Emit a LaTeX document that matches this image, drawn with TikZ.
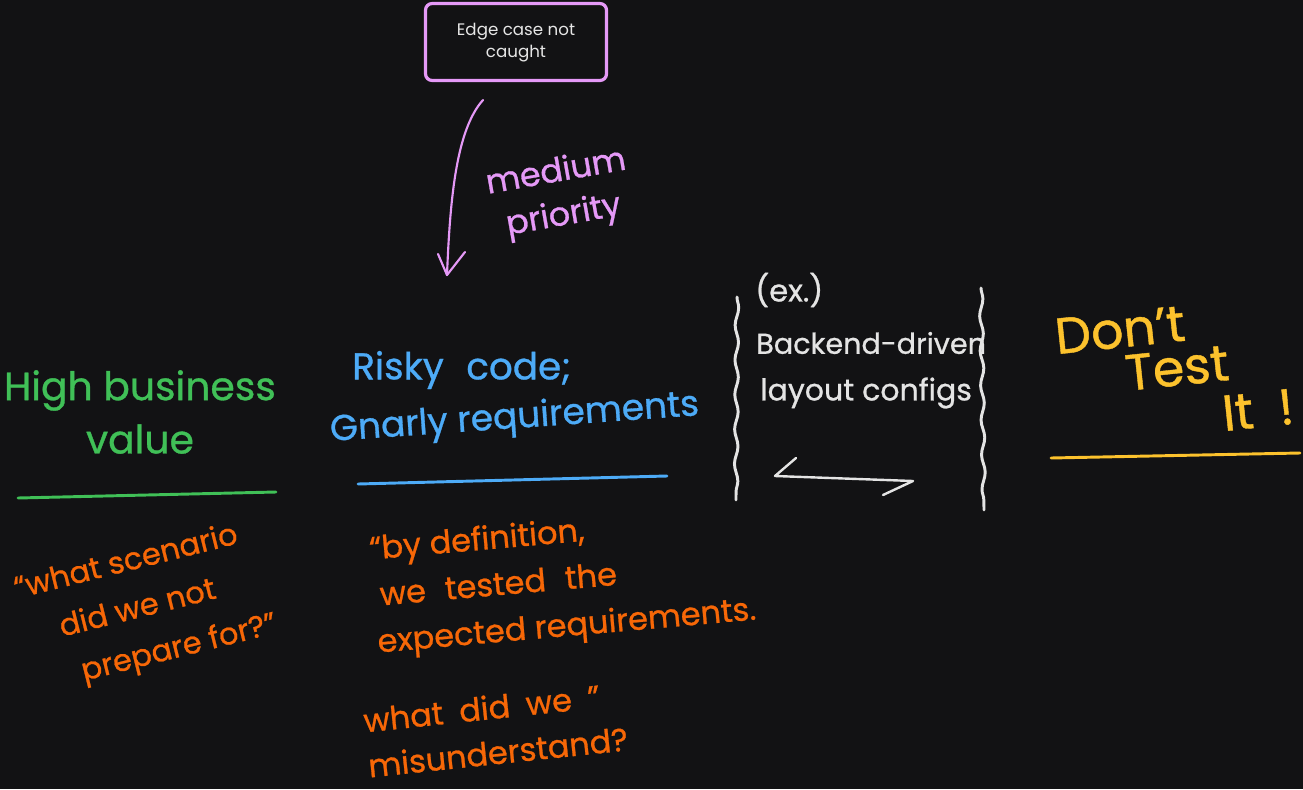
\documentclass[tikz,border=0pt]{standalone}
\usepackage{fontspec}
\setmainfont{Poppins}
\newfontfamily\handfont{Poppins}[RawFeature={embolden=0.8}]
\usetikzlibrary{decorations.pathmorphing}
\definecolor{bg}{HTML}{121214}
\definecolor{boxpink}{HTML}{E599F7}
\definecolor{boxtext}{HTML}{E6E6E6}
\definecolor{hgreen}{HTML}{40C057}
\definecolor{hblue}{HTML}{4DABF7}
\definecolor{horange}{HTML}{F76707}
\definecolor{hyellow}{HTML}{FCC22D}
\definecolor{hwhite}{HTML}{E4E4E4}
\tikzset{
  hand/.style={inner sep=0pt, align=center, font=\handfont\fontsize{28}{32}\selectfont},
  handsm/.style={inner sep=0pt, align=left, font=\handfont\fontsize{23}{34}\selectfont},
  stroke/.style={line width=2.2pt, line cap=round, line join=round},
  wavy/.style={stroke, hwhite, decorate, decoration={snake, amplitude=1.3pt, segment length=26pt}},
}
\begin{document}
\begin{tikzpicture}[x=0.75pt,y=-0.75pt]
\fill[bg] (0,0) rectangle (1303,789);
\useasboundingbox (0,0) rectangle (1303,789);

% top box
\node[draw=boxpink, line width=2.4pt, rounded corners=5pt, minimum width=181*0.75pt, minimum height=77*0.75pt,
      text=boxtext, align=center, font=\fontsize{12.5}{17}\selectfont] (edge) at (516,42) {\raisebox{-3pt}{\begin{tabular}{@{}c@{}}Edge case not\\[-1pt]caught\end{tabular}}};

% arrow from box
\coordinate (astart) at (483,100);
\coordinate (aend) at (447,275);
\draw[stroke, boxpink, line width=1.6pt] (astart) .. controls (456,130) and (450,200) .. (aend);
\draw[stroke, boxpink, line width=1.6pt] ([shift={(-9,-21)}]aend) -- (aend) -- ([shift={(18,-23)}]aend);

\node[hand, text=boxpink, rotate=10, font=\handfont\fontsize{25}{33}\selectfont] (prio) at (560,195) {medium\\priority};

% High business value
\node[hand, text=hgreen, font=\handfont\fontsize{29.5}{40}\selectfont] (hbv) at (140,412) {High business\\value};
\draw[stroke, hgreen] (18,498) coordinate (g1) -- (276,492) coordinate (g2);
\node[handsm, align=center, text=horange, rotate=14, font=\handfont\fontsize{23}{36}\selectfont] (q1) at (138,610) {“what scenario\\did we not\\\hspace*{2em}prepare for?”};

% Risky code
\node[hand, text=hblue, anchor=west] (risky) at (352,370) {Risky\hspace{0.6em}code;};
\node[hand, text=hblue, anchor=west, rotate=4, font=\handfont\fontsize{27}{32}\selectfont] (gnarly) at (330,432) {Gnarly requirements};
\draw[stroke, hblue] (358,484) coordinate (b1) -- (667,476) coordinate (b2);

\node[handsm, text=horange, anchor=north west, rotate=5, font=\handfont\fontsize{24}{35}\selectfont] (def) at (368,535)
  {“by definition,\\\hspace*{0.2em}we\hspace{0.6em}tested\hspace{0.6em}the\\expected requirements.};
\node[handsm, text=horange, anchor=north west, rotate=6, font=\handfont\fontsize{24}{34}\selectfont] (mis) at (362,708)
  {what\hspace{0.5em}did\hspace{0.5em}we\hspace{0.5em}”\\misunderstand?};

% example bracket
\draw[wavy] (737,297) coordinate (l1) -- (736,500) coordinate (l2);
\draw[wavy] (981,288) coordinate (r1) -- (984,510) coordinate (r2);
\node[handsm, text=hwhite, anchor=west] (ex) at (755,290) {(ex.)};
\node[handsm, text=hwhite, anchor=west, font=\handfont\fontsize{21.5}{30}\selectfont] (bd) at (756,343) {Backend-driven};
\node[handsm, text=hwhite, anchor=west, font=\handfont\fontsize{22.5}{30}\selectfont] (lc) at (760,393) {layout configs};
\coordinate (dl) at (775,476);
\coordinate (dr) at (913,481);
\draw[stroke, hwhite, line width=1.8pt] (796,458) -- (dl) -- (dr) -- (883,495);

% Don't test it
\tikzset{yel/.style={hand, text=hyellow, font=\handfont\fontsize{38}{40}\selectfont, rotate=6}}
\node[yel] (dont) at (1120,330) {Don’t};
\node[yel] (test) at (1177,368) {Test};
\node[yel] (itx) at (1258,410) {It\hspace{0.5em}!};
\draw[stroke, hyellow] (1051,458) coordinate (y1) -- (1300,453) coordinate (y2);
\end{tikzpicture}
\end{document}
